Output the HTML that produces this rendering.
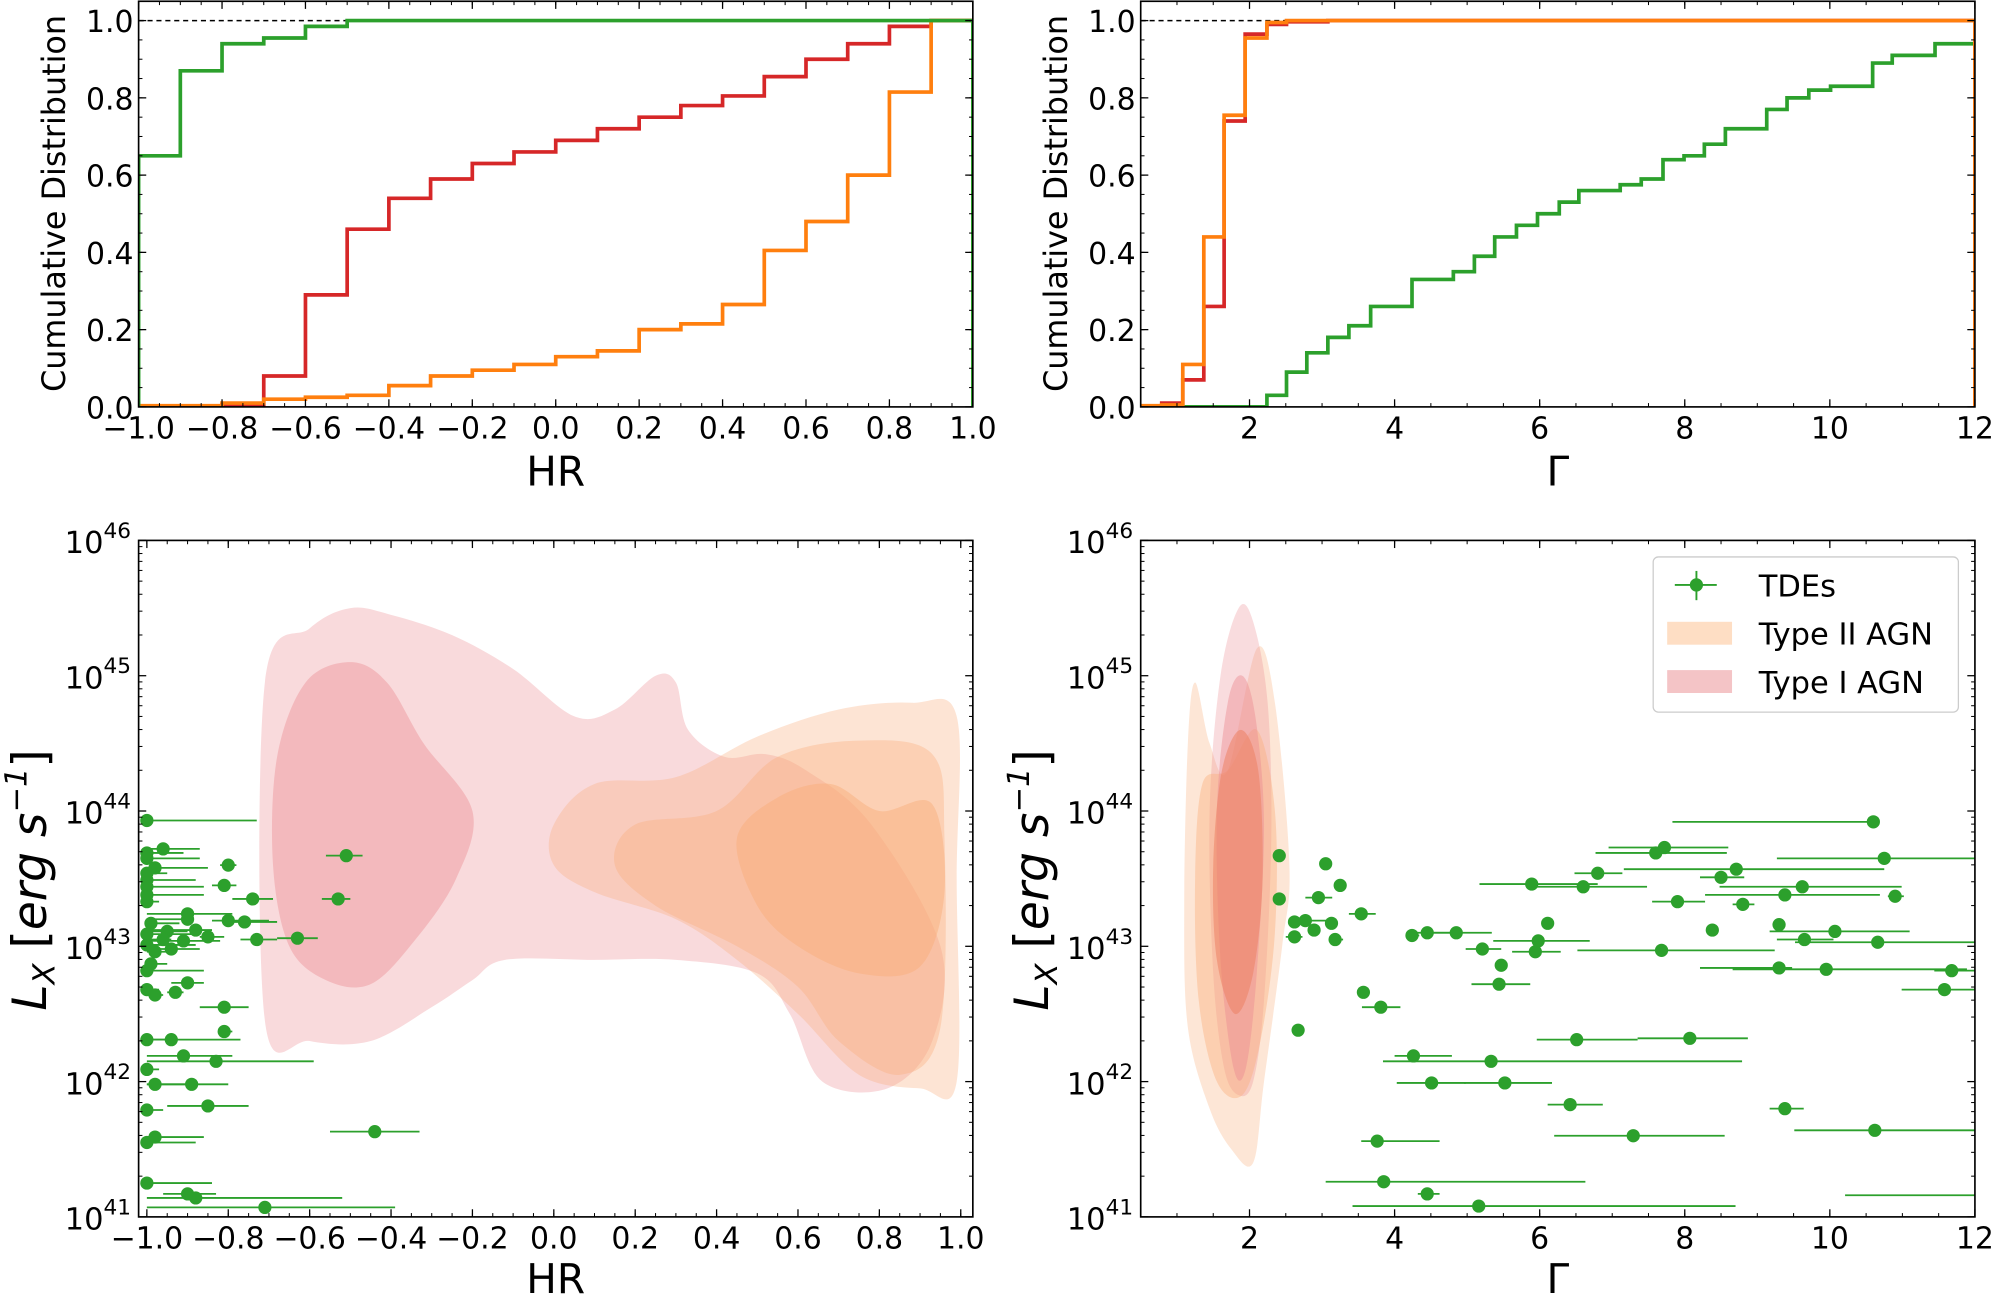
<!DOCTYPE html>
<html><head><meta charset="utf-8">
<style>
html,body{margin:0;padding:0;background:#fff;}
svg{display:block;}
text{font-family:"DejaVu Sans","Liberation Sans",sans-serif;fill:#000;}
</style></head>
<body>
<svg id="fig" xmlns="http://www.w3.org/2000/svg" width="1994" height="1297" viewBox="0 0 1568 1020" preserveAspectRatio="none"></svg>
<script>
// ---------- DATA ----------
const hrEdges = [-1.0,-0.9,-0.8,-0.7,-0.6,-0.5,-0.4,-0.3,-0.2,-0.1,0.0,0.1,0.2,0.3,0.4,0.5,0.6,0.7,0.8,0.9,1.0];
const hrTde   = [0.65,0.87,0.94,0.955,0.985,1,1,1,1,1,1,1,1,1,1,1,1,1,1,1];
const hrType1 = [0,0,0.005,0.08,0.29,0.46,0.54,0.59,0.63,0.66,0.69,0.72,0.75,0.78,0.805,0.855,0.9,0.94,0.985,1.0];
const hrType2 = [0.003,0.003,0.01,0.02,0.025,0.03,0.055,0.08,0.095,0.11,0.13,0.145,0.2,0.215,0.265,0.405,0.48,0.6,0.815,1.0];
const gEdgesAgn = [0.5,0.79,1.08,1.37,1.65,1.94,2.24,2.51,3.08,12];
const gType1 = [0.0,0.01,0.07,0.26,0.74,0.965,0.99,0.997,1.0];
const gType2 = [0.003,0.005,0.11,0.44,0.755,0.955,0.995,1.0,1.0];
const gEdgesTde = [0.5,2.24,2.51,2.79,3.08,3.37,3.67,4.24,4.81,5.10,5.38,5.68,5.97,6.27,6.54,7.11,7.40,7.70,7.99,8.27,8.56,9.13,9.41,9.71,10.01,10.59,10.86,11.45,12];
const gTde = [0,0.03,0.09,0.14,0.18,0.21,0.26,0.33,0.35,0.39,0.44,0.47,0.50,0.53,0.56,0.575,0.59,0.64,0.65,0.68,0.72,0.77,0.80,0.82,0.83,0.89,0.91,0.94];
const cdfTicks = [0.0,0.2,0.4,0.6,0.8,1.0];
const cdfTickLabels = ["0.0","0.2","0.4","0.6","0.8","1.0"];
const hrTicks = [-1.0,-0.8,-0.6,-0.4,-0.2,0.0,0.2,0.4,0.6,0.8,1.0];
const hrTickLabels = ["\u22121.0","\u22120.8","\u22120.6","\u22120.4","\u22120.2","0.0","0.2","0.4","0.6","0.8","1.0"];
const gTicks = [2,4,6,8,10,12];
const gTickLabels = ["2","4","6","8","10","12"];
const lTicks = [41,42,43,44,45,46];
const blHR = [-1.00,-0.96,-1.00,-1.00,-0.80,-0.98,-1.00,-1.00,-0.81,-1.00,-1.00,-0.74,-0.53,-0.51,-1.00,-0.90,-0.80,-0.76,-0.90,-0.99,-0.88,-0.95,-1.00,-0.85,-0.96,-0.91,-0.73,-0.63,-1.00,-0.94,-0.98,-0.99,-1.00,-0.90,-1.00,-0.93,-0.98,-0.81,-0.81,-1.00,-0.94,-0.91,-0.83,-1.00,-0.98,-0.89,-0.85,-1.00,-0.44,-0.98,-1.00,-1.00,-0.90,-0.88,-0.71];
const blL  = [43.93,43.72,43.69,43.65,43.60,43.58,43.54,43.49,43.45,43.44,43.38,43.35,43.35,43.67,43.33,43.24,43.19,43.18,43.20,43.17,43.12,43.11,43.09,43.07,43.05,43.04,43.05,43.06,43.01,42.98,42.96,42.87,42.82,42.73,42.68,42.66,42.64,42.55,42.37,42.31,42.31,42.19,42.15,42.09,41.98,41.98,41.82,41.79,41.63,41.59,41.55,41.25,41.17,41.14,41.07];
const blLo = [-1.00,-1.00,-1.00,-1.00,-0.82,-1.00,-1.00,-1.00,-0.84,-1.00,-1.00,-0.79,-0.57,-0.56,-1.00,-1.00,-0.84,-0.79,-1.00,-1.00,-1.00,-1.00,-1.00,-0.87,-1.00,-1.00,-0.77,-0.68,-1.00,-1.00,-1.00,-1.00,-1.00,-0.94,-1.00,-0.95,-1.00,-0.87,-0.82,-1.00,-1.00,-1.00,-1.00,-1.00,-1.00,-1.00,-0.95,-1.00,-0.55,-1.00,-1.00,-1.00,-0.96,-1.00,-1.00];
const blHi = [-0.73,-0.87,-0.91,-0.87,-0.78,-0.85,-0.95,-0.88,-0.78,-0.86,-0.86,-0.69,-0.50,-0.47,-0.97,-0.79,-0.70,-0.68,-0.89,-0.92,-0.84,-0.90,-0.87,-0.81,-0.94,-0.82,-0.68,-0.58,-0.88,-0.87,-0.95,-0.95,-0.86,-0.86,-0.97,-0.91,-0.96,-0.75,-0.79,-0.94,-0.77,-0.79,-0.59,-0.97,-0.90,-0.80,-0.75,-0.96,-0.33,-0.86,-0.88,-0.84,-0.83,-0.52,-0.39];
const brG  = [10.60,10.75,7.72,7.60,8.71,6.80,8.50,5.89,6.60,9.62,9.38,10.90,7.90,8.80,6.11,9.30,8.38,10.07,4.85,4.45,4.24,5.98,9.65,10.66,5.21,5.94,7.68,5.47,9.30,9.95,11.68,5.44,11.58,3.57,3.81,2.41,3.05,3.25,2.95,2.41,3.54,2.62,2.77,3.13,2.89,2.62,3.18,2.67,6.51,8.07,4.26,5.33,4.51,5.52,6.42,9.38,10.62,7.29,3.76,3.85,4.45,5.16,13.5];
const brL  = [43.92,43.65,43.73,43.69,43.57,43.54,43.51,43.46,43.44,43.44,43.38,43.37,43.33,43.31,43.17,43.16,43.12,43.11,43.10,43.10,43.08,43.04,43.05,43.03,42.98,42.96,42.97,42.86,42.84,42.83,42.82,42.72,42.68,42.66,42.55,43.67,43.61,43.45,43.36,43.35,43.24,43.18,43.19,43.17,43.12,43.07,43.05,42.38,42.31,42.32,42.19,42.15,41.99,41.99,41.83,41.80,41.64,41.60,41.56,41.26,41.17,41.08,41.16];
const brLo = [7.83,9.27,6.95,6.77,7.16,6.48,8.21,5.17,5.96,8.48,8.28,10.80,7.55,8.66,6.11,9.30,8.38,9.17,4.42,4.19,4.15,5.36,9.27,9.52,4.98,5.62,6.52,5.47,8.21,8.66,11.44,5.06,10.99,3.57,3.55,2.41,3.05,3.25,2.77,2.41,3.37,2.62,2.77,3.13,2.89,2.50,3.10,2.67,5.96,7.35,4.00,3.84,4.03,4.96,6.11,9.17,9.51,6.20,3.54,3.05,4.32,3.42,10.21];
const brHi = [10.67,12.5,8.60,8.58,10.75,7.14,8.82,6.80,7.48,10.99,10.69,11.02,8.28,8.96,6.11,9.30,8.38,11.10,5.34,4.76,4.34,6.69,10.05,12.5,5.47,6.29,9.24,5.47,9.48,11.89,12.5,5.87,12.5,3.57,4.08,2.41,3.05,3.25,3.14,2.41,3.74,2.62,3.14,3.13,2.89,2.73,3.29,2.67,7.35,8.87,4.79,8.79,4.98,6.17,6.87,9.64,12.5,8.55,4.62,6.63,4.62,8.70,14];
const blT1Outer = [[-0.71,44.95],[-0.6,45.35],[-0.5,45.5],[-0.4,45.45],[-0.25,45.3],[-0.1,45.05],[0.05,44.7],[0.15,44.75],[0.25,45.0],[0.3,44.95],[0.33,44.6],[0.42,44.4],[0.52,44.42],[0.62,44.3],[0.78,43.9],[0.95,43.0],[0.93,42.3],[0.82,41.95],[0.66,42.0],[0.58,42.5],[0.5,42.8],[0.3,42.9],[0.1,42.9],[-0.12,42.9],[-0.2,42.75],[-0.3,42.55],[-0.45,42.3],[-0.6,42.3],[-0.71,42.45]];
const blT1Inner = [[-0.68,44.4],[-0.61,44.95],[-0.5,45.1],[-0.41,44.95],[-0.32,44.5],[-0.2,44.0],[-0.24,43.5],[-0.34,43.05],[-0.45,42.72],[-0.56,42.75],[-0.65,43.0],[-0.69,43.6]];
const blT2Outer = [[0.0,43.9],[0.1,44.2],[0.3,44.25],[0.5,44.55],[0.7,44.75],[0.88,44.8],[0.99,44.7],[0.99,43.5],[0.99,42.0],[0.9,41.95],[0.75,42.05],[0.6,42.5],[0.45,42.9],[0.3,43.2],[0.1,43.4],[0.0,43.6]];
const blT2Mid = [[0.2,43.9],[0.4,44.0],[0.55,44.4],[0.75,44.52],[0.93,44.42],[0.96,43.8],[0.95,42.4],[0.85,42.05],[0.7,42.3],[0.6,42.7],[0.45,43.0],[0.25,43.3],[0.15,43.6]];
const blT2Inner = [[0.45,43.8],[0.55,44.1],[0.68,44.2],[0.8,44.0],[0.93,44.05],[0.96,43.4],[0.9,42.85],[0.75,42.8],[0.6,43.0],[0.5,43.3]];
const brT1Outer = [[1.45,44.0],[1.6,45.0],[1.85,45.5],[2.05,45.4],[2.25,44.8],[2.3,43.8],[2.2,42.6],[2.05,42.0],[1.85,41.9],[1.65,42.1],[1.5,42.8]];
const brT1Inner = [[1.55,44.0],[1.7,44.8],[1.9,45.0],[2.08,44.7],[2.2,43.9],[2.1,42.8],[1.95,42.1],[1.78,42.1],[1.6,42.9]];
const brT2Outer = [[1.1,43.3],[1.15,44.5],[1.25,44.95],[1.45,44.5],[1.7,44.3],[2.1,45.2],[2.35,44.8],[2.55,43.6],[2.45,43.0],[2.2,42.0],[2.05,41.4],[1.75,41.5],[1.45,41.8],[1.15,42.4]];
const brT2Mid = [[1.25,43.5],[1.35,44.2],[1.7,44.3],[2.1,44.6],[2.35,44.0],[2.35,43.1],[2.15,42.3],[1.9,41.9],[1.55,42.0],[1.3,42.6]];
const brT2Inner = [[1.5,43.6],[1.62,44.3],[1.88,44.6],[2.12,44.3],[2.18,43.5],[2.05,42.8],[1.8,42.5],[1.55,42.9]];

// ---------- RENDER ----------
const NS="http://www.w3.org/2000/svg";
const svg=document.getElementById('fig');
function el(tag,attrs,parent){const e=document.createElementNS(NS,tag);for(const k in attrs)e.setAttribute(k,attrs[k]);(parent||svg).appendChild(e);return e;}
function makeAxis(x0,x1,y0,y1,xmin,xmax,ymin,ymax){
  return {x0,x1,y0,y1,sx:v=>x0+(v-xmin)/(xmax-xmin)*(x1-x0),sy:v=>y1-(v-ymin)/(ymax-ymin)*(y1-y0),xmin,xmax,ymin,ymax};
}
const axTL=makeAxis(109,765,1,320,-1,1,0,1.05);
const axTR=makeAxis(897,1553,1,320,0.5,12,0,1.05);
const axBL=makeAxis(109,765,425,957,-1.0203,1.0297,41,46);
const axBR=makeAxis(897,1553,425,957,0.5,12,41,46);
const defs=el('defs',{});
function clipDef(ax,id){const c=document.createElementNS(NS,'clipPath');c.setAttribute('id',id);const r=document.createElementNS(NS,'rect');r.setAttribute('x',ax.x0);r.setAttribute('y',ax.y0);r.setAttribute('width',ax.x1-ax.x0);r.setAttribute('height',ax.y1-ax.y0);c.appendChild(r);defs.appendChild(c);return 'url(#'+id+')';}
function stepPath(ax,edges,vals){
  let d='M'+ax.sx(edges[0])+','+ax.sy(0);
  for(let i=0;i<vals.length;i++){d+=' L'+ax.sx(edges[i])+','+ax.sy(vals[i])+' L'+ax.sx(edges[i+1])+','+ax.sy(vals[i]);}
  d+=' L'+ax.sx(edges[edges.length-1])+','+ax.sy(0);
  return d;
}
function smoothClosed(ax,pts){
  const P=pts.map(p=>[ax.sx(p[0]),ax.sy(p[1])]);const n=P.length;
  let d='M'+P[0][0]+','+P[0][1];
  for(let i=0;i<n;i++){const p0=P[(i-1+n)%n],p1=P[i],p2=P[(i+1)%n],p3=P[(i+2)%n];
    const c1=[p1[0]+(p2[0]-p0[0])/6,p1[1]+(p2[1]-p0[1])/6],c2=[p2[0]-(p3[0]-p1[0])/6,p2[1]-(p3[1]-p1[1])/6];
    d+=' C'+c1[0]+','+c1[1]+' '+c2[0]+','+c2[1]+' '+p2[0]+','+p2[1];}
  return d+'Z';
}
function frameAndTicks(ax,g,xt,xl,yt,yl,logY,xminor){
  xt.forEach((v,i)=>{const x=ax.sx(v);
    el('line',{x1:x,y1:ax.y1,x2:x,y2:ax.y1-6,stroke:'#000','stroke-width':1},g);
    el('line',{x1:x,y1:ax.y0,x2:x,y2:ax.y0+6,stroke:'#000','stroke-width':1},g);
    const t=el('text',{x:x,y:ax.y1+25,'font-size':23.5,'text-anchor':'middle'},g);t.textContent=xl[i];
    
    
  });
  for(let v=Math.ceil(ax.xmin/xminor)*xminor;v<=ax.xmax+1e-9;v+=xminor){const x=ax.sx(v);
    el('line',{x1:x,y1:ax.y1,x2:x,y2:ax.y1-3,stroke:'#000','stroke-width':0.8},g);
    el('line',{x1:x,y1:ax.y0,x2:x,y2:ax.y0+3,stroke:'#000','stroke-width':0.8},g);}
  yt.forEach((v,i)=>{const y=ax.sy(v);
    el('line',{x1:ax.x0,y1:y,x2:ax.x0+6,y2:y,stroke:'#000','stroke-width':1},g);
    el('line',{x1:ax.x1,y1:y,x2:ax.x1-6,y2:y,stroke:'#000','stroke-width':1},g);
    let t;
    if(logY){t=el('text',{x:ax.x0-6,y:y+10,'font-size':24,'text-anchor':'end'},g);
      const a=el('tspan',{},t);a.textContent='10';const b=el('tspan',{dy:-12,'font-size':17},t);b.textContent=String(v);}
    else{t=el('text',{x:ax.x0-4,y:y+9,'font-size':23.5,'text-anchor':'end'},g);t.textContent=yl[i];}
    
    
  });
  if(logY){for(let dcd=ax.ymin;dcd<ax.ymax;dcd++){for(let m=2;m<=9;m++){const y=ax.sy(dcd+Math.log10(m));
      el('line',{x1:ax.x0,y1:y,x2:ax.x0+3,y2:y,stroke:'#000','stroke-width':0.8},g);
      el('line',{x1:ax.x1,y1:y,x2:ax.x1-3,y2:y,stroke:'#000','stroke-width':0.8},g);}}}
  else{for(let v=0;v<=1.05;v+=0.05){const y=ax.sy(v);
      el('line',{x1:ax.x0,y1:y,x2:ax.x0+3,y2:y,stroke:'#000','stroke-width':0.8},g);
      el('line',{x1:ax.x1,y1:y,x2:ax.x1-3,y2:y,stroke:'#000','stroke-width':0.8},g);}}
  const f=el('rect',{x:ax.x0,y:ax.y0,width:ax.x1-ax.x0,height:ax.y1-ax.y0,fill:'none',stroke:'#000','stroke-width':1.3},g);
  
  
}
const GREEN='#2ca02c',RED='#d62728',ORANGE='#ff7f0e';
const LW=2.9;
// ---- Top-left ----
{const g=el('g',{});
 const cp=clipDef(axTL,'cTL');const inner=el('g',{'clip-path':cp},g);
 el('line',{x1:axTL.sx(-1),y1:axTL.sy(1),x2:axTL.sx(1),y2:axTL.sy(1),stroke:'#000','stroke-width':1.2,'stroke-dasharray':'4,3'},inner);
 const r=el('path',{d:stepPath(axTL,hrEdges,hrType1),fill:'none',stroke:RED,'stroke-width':LW},inner);
 
 const o=el('path',{d:stepPath(axTL,hrEdges,hrType2),fill:'none',stroke:ORANGE,'stroke-width':LW},inner);
 
 const gr=el('path',{d:stepPath(axTL,hrEdges,hrTde),fill:'none',stroke:GREEN,'stroke-width':LW},inner);
 
 frameAndTicks(axTL,g,hrTicks,hrTickLabels,cdfTicks,cdfTickLabels,false,0.05);
 const xl=el('text',{x:437,y:382,'font-size':32,'text-anchor':'middle'},g);xl.textContent='HR';
 
 const yl=el('text',{x:0,y:0,'font-size':25,'text-anchor':'middle',transform:'translate(51,160) rotate(-90)'},g);yl.textContent='Cumulative Distribution';
 
}
// ---- Top-right ----
{const g=el('g',{});
 const cp=clipDef(axTR,'cTR');const inner=el('g',{'clip-path':cp},g);
 el('line',{x1:axTR.sx(0.5),y1:axTR.sy(1),x2:axTR.sx(12),y2:axTR.sy(1),stroke:'#000','stroke-width':1.2,'stroke-dasharray':'4,3'},inner);
 const gr=el('path',{d:stepPath(axTR,gEdgesTde,gTde),fill:'none',stroke:GREEN,'stroke-width':LW},inner);
 
 const r=el('path',{d:stepPath(axTR,gEdgesAgn,gType1),fill:'none',stroke:RED,'stroke-width':LW},inner);
 
 const o=el('path',{d:stepPath(axTR,gEdgesAgn,gType2),fill:'none',stroke:ORANGE,'stroke-width':LW},inner);
 
 frameAndTicks(axTR,g,gTicks,gTickLabels,cdfTicks,cdfTickLabels,false,0.5);
 const xl=el('text',{x:1225,y:382,'font-size':32,'text-anchor':'middle'},g);xl.textContent='Γ';
 
 const yl=el('text',{x:0,y:0,'font-size':25,'text-anchor':'middle',transform:'translate(839,160) rotate(-90)'},g);yl.textContent='Cumulative Distribution';
 
}
function contour(ax,pts,fill,op,parent,name){const p=el('path',{d:smoothClosed(ax,pts),fill:fill,'fill-opacity':op},parent);
 }
function scatter(ax,xs,ls,lo,hi,parent){
 for(let i=0;i<xs.length;i++){
  const l=el('line',{x1:ax.sx(lo[i]),y1:ax.sy(ls[i]),x2:ax.sx(hi[i]),y2:ax.sy(ls[i]),stroke:GREEN,'stroke-width':1.4},parent);
  
  const c=el('circle',{cx:ax.sx(xs[i]),cy:ax.sy(ls[i]),r:5.2,fill:GREEN},parent);
  
 }}
const PINK='rgb(236,140,146)',PEACH='rgb(249,172,120)';
const LXLABEL='L<tspan font-size="24" dy="7">X</tspan><tspan dy="-7"> </tspan><tspan font-style="normal">[</tspan><tspan>erg s</tspan><tspan font-size="24" dy="-15">−1</tspan><tspan dy="15" font-style="normal">]</tspan>';
// ---- Bottom-left ----
{const g=el('g',{});
 const cp=clipDef(axBL,'cBL');const inner=el('g',{'clip-path':cp},g);
 contour(axBL,blT1Outer,PINK,0.32,inner,'type1-agn-contour-outer');
 contour(axBL,blT1Inner,PINK,0.42,inner,'type1-agn-contour-inner');
 contour(axBL,blT2Outer,PEACH,0.32,inner,'type2-agn-contour-outer');
 contour(axBL,blT2Mid,PEACH,0.35,inner,'type2-agn-contour-mid');
 contour(axBL,blT2Inner,PEACH,0.45,inner,'type2-agn-contour-inner');
 scatter(axBL,blHR,blL,blLo,blHi,inner);
 frameAndTicks(axBL,g,hrTicks,hrTickLabels,lTicks,null,true,0.05);
 const xl=el('text',{x:437,y:1017,'font-size':32,'text-anchor':'middle'},g);xl.textContent='HR';
 
 const yl=el('text',{x:0,y:0,'font-size':37,'text-anchor':'middle','font-style':'italic',transform:'translate(36,692) rotate(-90)'},g);
 
 yl.innerHTML=LXLABEL;
}
// ---- Bottom-right ----
{const g=el('g',{});
 const cp=clipDef(axBR,'cBR');const inner=el('g',{'clip-path':cp},g);
 contour(axBR,brT2Outer,PEACH,0.3,inner,'type2-agn-contour-outer');
 contour(axBR,brT1Outer,PINK,0.3,inner,'type1-agn-contour-outer');
 contour(axBR,brT2Mid,PEACH,0.4,inner,'type2-agn-contour-mid');
 contour(axBR,brT1Inner,PINK,0.45,inner,'type1-agn-contour-inner');
 contour(axBR,brT2Inner,'rgb(236,130,100)',0.55,inner,'type2-agn-contour-inner');
 scatter(axBR,brG,brL,brLo,brHi,inner);
 frameAndTicks(axBR,g,gTicks,gTickLabels,lTicks,null,true,0.5);
 const xl=el('text',{x:1225,y:1017,'font-size':32,'text-anchor':'middle'},g);xl.textContent='Γ';
 
 const yl=el('text',{x:0,y:0,'font-size':37,'text-anchor':'middle','font-style':'italic',transform:'translate(824,692) rotate(-90)'},g);
 
 yl.innerHTML=LXLABEL;
 const lg=el('g',{},g);
 el('rect',{x:1300,y:438,width:240,height:122,rx:4,fill:'#fff','fill-opacity':0.85,stroke:'#ccc','stroke-width':1},lg);
 const e1=el('g',{},lg);
 el('line',{x1:1317,y1:460,x2:1350,y2:460,stroke:GREEN,'stroke-width':1.5},e1);
 el('line',{x1:1334,y1:449,x2:1334,y2:472,stroke:GREEN,'stroke-width':1.5},e1);
 el('circle',{cx:1334,cy:460,r:5.2,fill:GREEN},e1);
 const t1=el('text',{x:1383,y:469,'font-size':24},e1);t1.textContent='TDEs';
 const e2=el('g',{},lg);
 el('rect',{x:1311,y:489,width:51,height:18,fill:'rgb(254,222,196)'},e2);
 const t2=el('text',{x:1383,y:507,'font-size':24},e2);t2.textContent='Type II AGN';
 const e3=el('g',{},lg);
 el('rect',{x:1311,y:527,width:51,height:18,fill:'rgb(244,196,198)'},e3);
 const t3=el('text',{x:1383,y:545,'font-size':24},e3);t3.textContent='Type I AGN';
}
</script>
</body></html>
